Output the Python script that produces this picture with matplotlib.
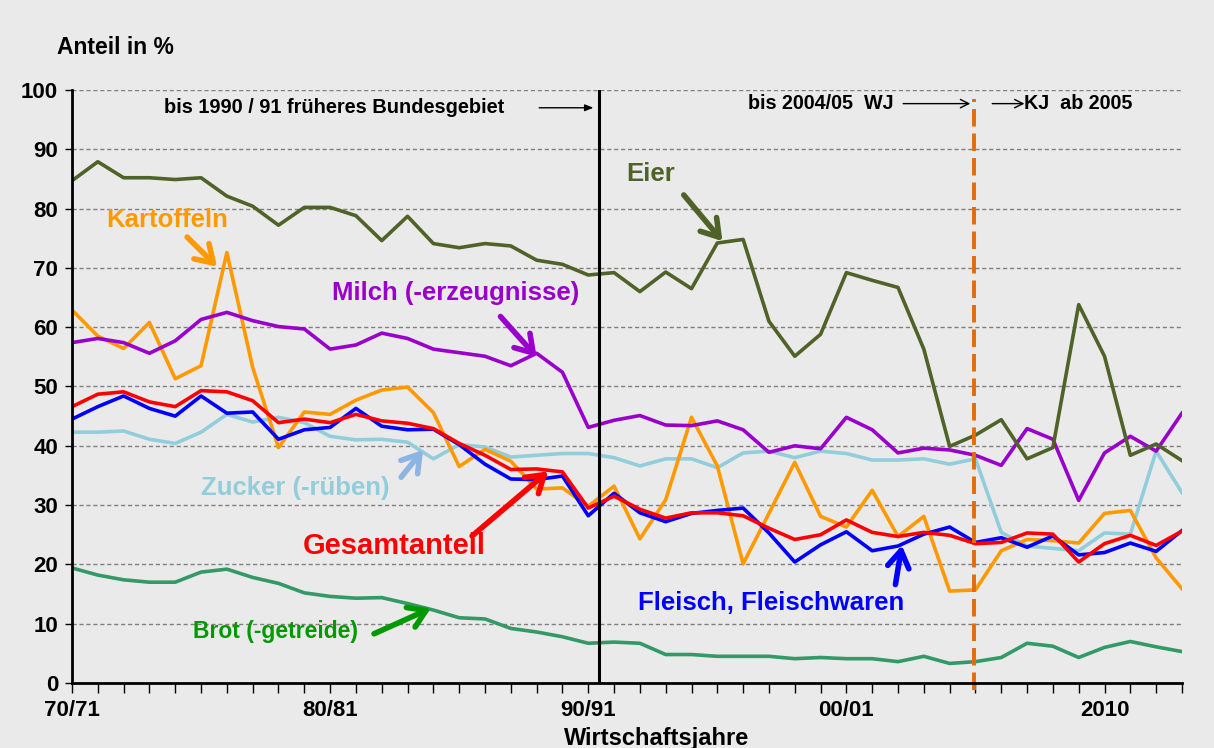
import matplotlib
matplotlib.use("Agg")
import matplotlib.pyplot as plt

plt.rcParams['font.family'] = ['Liberation Sans', 'DejaVu Sans']
plt.rcParams['font.weight'] = 'bold'

# x positions: 70/71 ... 2013 (44 Wirtschafts-/Kalenderjahre)
years = list(range(44))
tick_pos = [0, 10, 20, 30, 40]
tick_labels = ["70/71", "80/81", "90/91", "00/01", "2010"]

eier = [84.7, 87.9, 85.2, 85.2, 84.9, 85.2, 82.1, 80.4, 77.2, 80.2,
        80.2, 78.8, 74.6, 78.7, 74.1, 73.4, 74.1, 73.7, 71.3, 70.6,
        68.8, 69.2, 66.0, 69.3, 66.5, 74.2, 74.8, 61.0, 55.1, 58.8,
        69.2, 67.9, 66.7, 56.3, 39.9, 41.8, 44.4, 37.8, 39.7, 63.8,
        55.1, 38.4, 40.3, 37.5]
milch = [57.4, 58.1, 57.4, 55.6, 57.7, 61.3, 62.5, 61.1, 60.1, 59.7,
         56.3, 57.0, 59.0, 58.1, 56.3, 55.7, 55.1, 53.5, 55.6, 52.4,
         43.1, 44.3, 45.1, 43.5, 43.4, 44.2, 42.7, 38.9, 40.0, 39.5,
         44.8, 42.7, 38.8, 39.6, 39.3, 38.4, 36.7, 42.9, 41.1, 30.8,
         38.8, 41.6, 39.1, 45.5]
kartoffeln = [62.9, 58.5, 56.4, 60.8, 51.3, 53.5, 72.6, 53.2, 39.7, 45.7,
              45.3, 47.7, 49.4, 49.9, 45.6, 36.5, 39.4, 37.4, 32.7, 32.9,
              29.8, 33.2, 24.3, 30.9, 44.8, 36.6, 20.1, 28.6, 37.2, 28.1,
              26.3, 32.5, 24.7, 28.1, 15.5, 15.7, 22.3, 24.2, 24.0, 23.6,
              28.6, 29.1, 21.1, 15.9]
gesamt = [46.6, 48.7, 49.1, 47.4, 46.6, 49.3, 49.1, 47.6, 43.9, 44.5,
          43.9, 45.3, 44.2, 43.8, 42.9, 40.4, 38.4, 36.0, 36.1, 35.6,
          29.5, 31.5, 29.3, 27.8, 28.7, 28.7, 28.2, 26.1, 24.2, 25.0,
          27.5, 25.4, 24.7, 25.4, 24.9, 23.5, 23.7, 25.3, 25.1, 20.4,
          23.5, 24.9, 23.2, 25.6]
fleisch = [44.5, 46.6, 48.4, 46.3, 45.0, 48.4, 45.5, 45.7, 41.1, 42.7,
           43.1, 46.3, 43.3, 42.7, 42.8, 40.2, 36.9, 34.4, 34.3, 34.9,
           28.2, 32.0, 28.7, 27.2, 28.6, 29.1, 29.5, 25.3, 20.4, 23.3,
           25.5, 22.3, 23.1, 25.1, 26.3, 23.7, 24.5, 22.9, 24.8, 21.6,
           22.0, 23.6, 22.2, 25.7]
zucker = [42.3, 42.3, 42.5, 41.1, 40.4, 42.3, 45.3, 44.0, 44.8, 43.9,
          41.6, 41.0, 41.1, 40.6, 37.8, 40.2, 39.8, 38.1, 38.4, 38.7,
          38.7, 38.0, 36.6, 37.8, 37.8, 36.3, 38.8, 39.1, 38.0, 39.1,
          38.7, 37.6, 37.6, 37.8, 36.9, 37.8, 25.4, 23.1, 22.7, 22.3,
          25.3, 25.1, 39.1, 32.1]
brot = [19.4, 18.2, 17.4, 17.0, 17.0, 18.7, 19.2, 17.8, 16.8, 15.2,
        14.6, 14.3, 14.4, 13.4, 12.3, 11.0, 10.8, 9.2, 8.6, 7.8,
        6.7, 6.9, 6.7, 4.8, 4.8, 4.5, 4.5, 4.5, 4.1, 4.3,
        4.1, 4.1, 3.6, 4.5, 3.3, 3.6, 4.3, 6.7, 6.2, 4.3,
        6.0, 7.0, 6.1, 5.3]

bg = "#EAEAEA"
fig = plt.figure(figsize=(12.14, 7.48), dpi=100, facecolor=bg)
ax = fig.add_axes([0.0593, 0.0869, 0.9143, 0.7928])
ax.set_facecolor(bg)

# grid
for v in range(10, 101, 10):
    ax.axhline(v, color="#7F7F7F", lw=1, ls=(0, (3, 2)), zorder=1)

lw = 2.6
ax.plot(years, brot, color="#339966", lw=lw, zorder=3)
ax.plot(years, zucker, color="#92CDDC", lw=lw, zorder=3)
ax.plot(years, kartoffeln, color="#FF9900", lw=lw, zorder=3)
ax.plot(years, milch, color="#9900CC", lw=lw, zorder=3)
ax.plot(years, eier, color="#4F6228", lw=lw, zorder=3)
ax.plot(years, fleisch, color="#0000FF", lw=lw, zorder=3)
ax.plot(years, gesamt, color="#FF0000", lw=lw, zorder=3)

# Trennlinien
ax.plot([20.4, 20.4], [0, 100], color="black", lw=2.2, zorder=4)
ax.plot([34.95, 34.95], [-1.2, 98.5], color="#E36C09", lw=2.8,
        ls=(0, (4.5, 1.8)), zorder=4, clip_on=False)

ax.set_xlim(0, 43)
ax.set_ylim(0, 100)
for s in ["top", "right"]:
    ax.spines[s].set_visible(False)
ax.spines["left"].set_linewidth(2)
ax.spines["bottom"].set_linewidth(2)
ax.spines["left"].set_zorder(5)
ax.spines["bottom"].set_zorder(5)

ax.set_yticks(range(0, 101, 10))
ax.set_xticks(tick_pos)
ax.set_xticklabels(tick_labels)
ax.set_xticks(years, minor=True)
ax.tick_params(axis="y", length=5, width=1, pad=5, labelsize=16)
ax.tick_params(axis="x", which="both", length=7, width=1, pad=5,
               labelsize=16)
for t in ax.get_xticklabels() + ax.get_yticklabels():
    t.set_fontweight("bold")

fig.text(57 / 1214, 1 - 48 / 748, "Anteil in %", ha="left", va="center",
         fontsize=16.5, fontweight="bold")
fig.text(657 / 1214, 1 - 738 / 748, "Wirtschaftsjahre", ha="center",
         va="center", fontsize=17, fontweight="bold")

# Hinweise oben
ax.text(10.15, 97.0, "bis 1990 / 91 früheres Bundesgebiet", ha="center",
        va="center", fontsize=14.4, fontweight="bold")
ax.annotate("", xy=(20.2, 97.0), xytext=(18.1, 97.0),
            arrowprops=dict(arrowstyle="-|>,head_length=0.5,head_width=0.2",
                            lw=1, color="black", shrinkA=0, shrinkB=0))
ax.text(29.0, 97.7, "bis 2004/05  WJ", ha="center", va="center",
        fontsize=14.2, fontweight="bold")
ax.annotate("", xy=(34.8, 97.7), xytext=(32.2, 97.7),
            arrowprops=dict(arrowstyle="->,head_length=0.6,head_width=0.3",
                            lw=1, color="black", shrinkA=0, shrinkB=0))
ax.annotate("", xy=(36.9, 97.7), xytext=(35.65, 97.7),
            arrowprops=dict(arrowstyle="->,head_length=0.6,head_width=0.3",
                            lw=1, color="black", shrinkA=0, shrinkB=0))
ax.text(36.9, 97.7, "KJ  ab 2005", ha="left", va="center",
        fontsize=14.2, fontweight="bold")

# Beschriftungen mit Pfeilen
labels = [
    ("Kartoffeln", (3.68, 78.1), (4.46, 75.2), (5.62, 70.2), "#FF9900", "#FF9900", 18.5),
    ("Eier", (22.43, 85.8), (23.7, 82.3), (25.2, 74.5), "#4F6228", "#4F6228", 18.5),
    ("Milch (-erzeugnisse)", (14.88, 65.8), (16.6, 61.8), (18.0, 55.0), "#9900CC", "#9900CC", 18.5),
    ("Zucker (-rüben)", (8.64, 32.9), (12.75, 34.7), (13.6, 39.3), "#92CDDC", "#8DB4E2", 18.5),
    ("Gesamtanteil", (12.48, 23.1), (15.5, 24.8), (18.45, 35.7), "#FF0000", "#FF0000", 21),
    ("Brot (-getreide)", (7.90, 8.6), (11.7, 8.3), (13.9, 12.6), "#009900", "#009900", 16.5),
    ("Fleisch, Fleischwaren", (27.08, 13.5), (31.9, 16.6), (32.15, 23.2), "#0000FF", "#0000FF", 18.5),
]
for name, pos, tail, head, tcol, acol, fs in labels:
    ax.text(pos[0], pos[1], name, ha="center", va="center", color=tcol,
            fontsize=fs, fontweight="bold", zorder=6)
    ax.annotate("", xy=head, xytext=tail, zorder=6,
                arrowprops=dict(arrowstyle="->,head_length=0.55,head_width=0.35",
                                lw=4, color=acol, shrinkA=0, shrinkB=0,
                                mutation_scale=22))

fig.savefig("out.png", dpi=100, facecolor=bg)
